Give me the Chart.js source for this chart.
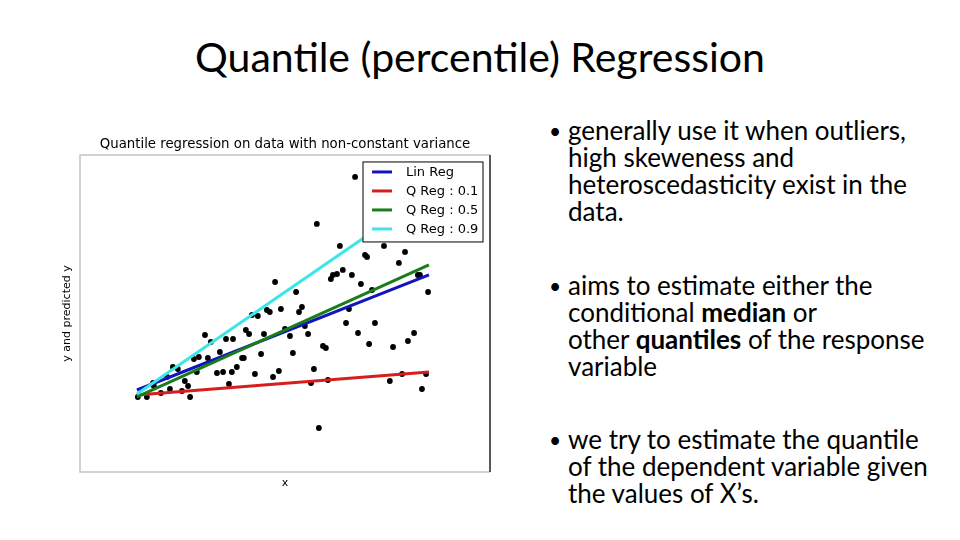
<!DOCTYPE html>
<html>
<head>
<meta charset="utf-8">
<script src="https://cdn.jsdelivr.net/npm/chart.js@4.4.1/dist/chart.umd.min.js"></script>
<style>
  html, body { margin: 0; padding: 0; background: #fff; }
  body { width: 960px; height: 540px; position: relative; overflow: hidden; font-family: Lato, "Open Sans", sans-serif; color: #000; }
  #title { position: absolute; left: 0; width: 960px; top: 32px; text-align: center; font-size: 41px; line-height: 50px; white-space: nowrap; }
  .block { position: absolute; left: 549px; font-size: 26px; line-height: 27px; white-space: nowrap; }
  .block .dot { position: absolute; left: 0; top: 0; font-size: 21px; }
  .block .txt { position: absolute; left: 19px; top: 0; }
  #wrap { position: absolute; left: 40px; top: 125px; width: 490px; height: 370px; }
</style>
</head>
<body>
<div id="title">Quantile (percentile) Regression</div>

<div class="block" style="top:117px"><span class="dot">•</span><span class="txt">generally use it when outliers,<br>high skeweness and<br>heteroscedasticity exist in the<br>data.</span></div>
<div class="block" style="top:272px"><span class="dot">•</span><span class="txt">aims to estimate either the<br>conditional <b>median</b> or<br>other <b>quantiles</b> of the response<br>variable</span></div>
<div class="block" style="top:426px"><span class="dot">•</span><span class="txt">we try to estimate the quantile<br>of the dependent variable given<br>the values of X’s.</span></div>

<div id="wrap"><canvas id="mycanvas"></canvas></div>

<script>
// scatter data
var pointX = [7.47, 6.16, 6.95, 8.46, 7.81, 7.88, 9.18, 8.97, 4.73, 6.64, 6.71, 6.85, 7.05, 7.36, 7.67, 9.62, 9.69, 9.97, 8.05, 5.45,
              3.94, 4.14, 4.45, 4.55, 4.93, 5.55, 5.65, 7.26, 3.73, 3.84, 4.35, 5.07, 5.24, 5.75, 5.86, 7.16, 8.15, 7.57, 2.33, 2.53,
              3.05, 3.29, 2.84, 2.43, 1.95, 2.12, 3.60, 3.66, 4.25, 5.34, 6.37, 6.47, 7.95, 8.77, 9.28, 9.49, 1.23, 1.40, 2.05, 2.74,
              2.95, 3.25, 3.42, 4.04, 4.66, 4.86, 6.06, 1.03, 1.64, 1.75, 3.15, 1.13, 1.54, 1.82, 0.82, 0.58, 0.55, 0.34, 0.03, 5.96,
              6.54, 8.66, 9.08, 9.90, 9.76, 6.23];
var pointY = [21.8, 17.1, 14.9, 14.9, 14.0, 13.8, 14.3, 13.2, 11.3, 11.6, 12.0, 12.1, 12.5, 12.0, 11.1, 12.0, 12.0, 10.3, 10.5, 10.3,
              8.0, 7.9, 8.5, 8.3, 8.6, 8.3, 8.8, 8.6, 6.5, 6.1, 6.1, 6.6, 5.9, 6.9, 6.1, 7.2, 7.2, 6.2, 6.0, 5.3,
              5.6, 5.6, 4.3, 3.7, 3.6, 3.8, 3.7, 3.7, 4.1, 4.2, 4.9, 4.7, 5.1, 4.8, 5.4, 6.2, 2.8, 2.6, 2.3, 2.2,
              2.3, 2.3, 2.8, 2.1, 1.8, 2.4, 2.6, 1.8, 1.4, 0.9, 1.1, 0.6, 0.4, -0.2, 0.2, 0.9, 1.2, -0.2, -0.2, 1.2,
              1.5, 1.4, 2.1, 2.1, 0.6, -3.3];

// fitted lines, value at lineX[0] and lineX[1]
var lineX = [0, 10];
var linReg = [0.5, 12.0];
var qReg10 = [0.0, 2.3];
var qReg50 = [-0.2, 13.0];
var qReg90 = [0.1, 20.2];

var seriesNames = ["Lin Reg", "Q Reg : 0.1", "Q Reg : 0.5", "Q Reg : 0.9"];
var seriesColors = ["rgb(20,20,190)", "rgb(215,30,30)", "rgb(25,125,25)", "rgb(60,230,230)"];

function toXY(xs, ys) {
	var out = [];
	for (var i in xs) {
		out.push({x: xs[i], y: ys[i]});
	}
	return out;
}

var lineData = [linReg, qReg10, qReg50, qReg90];
var datasets = [];
for (var k = 0; k < lineData.length; k++) {
	datasets.push({
		type: "line",
		label: seriesNames[k],
		data: toXY(lineX, lineData[k]),
		borderColor: seriesColors[k],
		backgroundColor: seriesColors[k],
		borderWidth: 3,
		pointRadius: 0,
		fill: false,
		order: 4 - k
	});
}
datasets.push({
	type: "scatter",
	label: "data",
	data: toXY(pointX, pointY),
	backgroundColor: "#000",
	borderColor: "#000",
	pointRadius: 2.9,
	borderWidth: 0,
	order: 5
});

// frame around the axes and a boxed legend inside the plot
var framePlugin = {
	id: "frame",
	afterDatasetsDraw: function(chart) {
		var ctx = chart.ctx, a = chart.chartArea;
		ctx.save();
		ctx.lineWidth = 1.5;
		ctx.strokeStyle = "#c4c4c4";
		ctx.beginPath();
		ctx.moveTo(a.right, a.top);
		ctx.lineTo(a.left, a.top);
		ctx.lineTo(a.left, a.bottom);
		ctx.lineTo(a.right, a.bottom);
		ctx.stroke();
		ctx.strokeStyle = "#222";
		ctx.beginPath();
		ctx.moveTo(a.right, a.top);
		ctx.lineTo(a.right, a.bottom);
		ctx.stroke();

		var bw = 120, bh = 80;
		var bx = a.right - 7 - bw, by = a.top + 7;
		ctx.fillStyle = "#fff";
		ctx.fillRect(bx, by, bw, bh);
		ctx.strokeStyle = "#000";
		ctx.lineWidth = 1;
		ctx.strokeRect(bx, by, bw, bh);
		ctx.font = "13px 'DejaVu Sans'";
		ctx.textBaseline = "middle";
		for (var i = 0; i < seriesNames.length; i++) {
			var yy = by + 10 + i * 19;
			ctx.strokeStyle = seriesColors[i];
			ctx.lineWidth = 3;
			ctx.beginPath();
			ctx.moveTo(bx + 9, yy);
			ctx.lineTo(bx + 29, yy);
			ctx.stroke();
			ctx.fillStyle = "#000";
			ctx.fillText(seriesNames[i], bx + 43, yy + 1);
		}
		ctx.restore();
	}
};

var ctx = document.getElementById("mycanvas");
var chart = new Chart(ctx, {
	data: { datasets: datasets },
	plugins: [framePlugin],
	options: {
		responsive: true,
		maintainAspectRatio: false,
		animation: false,
		layout: { padding: { top: 4, left: 10, right: 10, bottom: 5 } },
		plugins: {
			legend: { display: false },
			tooltip: { enabled: false },
			title: {
				display: true,
				text: "Quantile regression on data with non-constant variance",
				color: "#000",
				font: { family: "DejaVu Sans", size: 13.3, weight: "normal" },
				padding: { top: 8, bottom: 2 }
			}
		},
		scales: {
			x: {
				type: "linear",
				min: -1.95,
				max: 12.09,
				grid: { display: false },
				border: { display: false },
				ticks: { display: false },
				title: { display: true, text: "x", color: "#000", font: { family: "DejaVu Sans", size: 11 }, padding: { top: 0, bottom: 0 } },
				afterFit: function(scale) { scale.height = 18; }
			},
			y: {
				type: "linear",
				min: -7.7,
				max: 24,
				grid: { display: false },
				border: { display: false },
				ticks: { display: false },
				title: { display: true, text: "y and predicted y", color: "#000", font: { family: "DejaVu Sans", size: 11 }, padding: { top: 11, bottom: 0 } },
				afterFit: function(scale) { scale.width = 30; }
			},
			// empty right-hand axis, only keeps the plot title centred over the frame
			y2: {
				type: "linear",
				position: "right",
				min: 0,
				max: 1,
				grid: { display: false },
				border: { display: false },
				ticks: { display: false },
				afterFit: function(scale) { scale.width = 30; }
			}
		}
	}
});
</script>
</body>
</html>
